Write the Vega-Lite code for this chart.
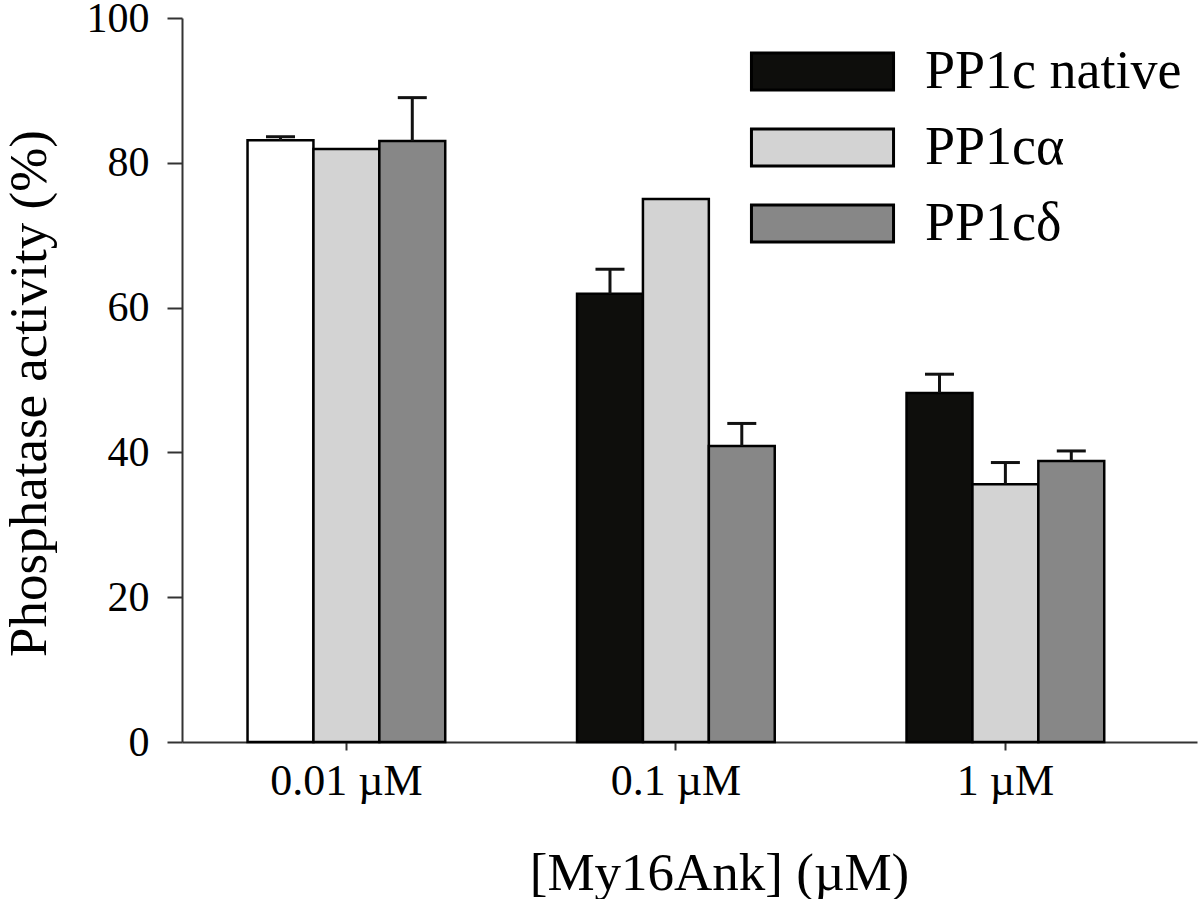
{
  "$schema": "https://vega.github.io/schema/vega-lite/v6.json",
  "width": 1015,
  "height": 724,
  "autosize": "none",
  "padding": {"left": 182, "top": 18, "right": 3, "bottom": 157},
  "background": "white",
  "config": {
    "view": {"stroke": null},
    "font": "Liberation Serif"
  },
  "data": {
    "values": [
      {"conc": "0.01 µM", "enzyme": "PP1c native", "value": 83.1, "upper": 83.6},
      {"conc": "0.01 µM", "enzyme": "PP1cα", "value": 81.9, "upper": null},
      {"conc": "0.01 µM", "enzyme": "PP1cδ", "value": 83.0, "upper": 89.0},
      {"conc": "0.1 µM", "enzyme": "PP1c native", "value": 61.9, "upper": 65.3},
      {"conc": "0.1 µM", "enzyme": "PP1cα", "value": 75.0, "upper": null},
      {"conc": "0.1 µM", "enzyme": "PP1cδ", "value": 40.9, "upper": 44.0},
      {"conc": "1 µM", "enzyme": "PP1c native", "value": 48.2, "upper": 50.8},
      {"conc": "1 µM", "enzyme": "PP1cα", "value": 35.6, "upper": 38.6},
      {"conc": "1 µM", "enzyme": "PP1cδ", "value": 38.8, "upper": 40.2}
    ]
  },
  "encoding": {
    "x": {
      "field": "conc",
      "type": "nominal",
      "sort": ["0.01 µM", "0.1 µM", "1 µM"],
      "scale": {"paddingInner": 0.4, "paddingOuter": 0.2402, "align": 0.414},
      "axis": {
        "title": "[My16Ank] (µM)",
        "titleFontSize": 53,
        "titleFontWeight": "normal",
        "titleColor": "black",
        "titlePadding": 44,
        "titleX": 537,
        "labelAngle": 0,
        "labelFontSize": 44,
        "labelColor": "black",
        "labelPadding": 9,
        "tickSize": 8,
        "tickColor": "#333",
        "tickWidth": 2,
        "domainColor": "#333",
        "domainWidth": 2
      }
    },
    "xOffset": {
      "field": "enzyme",
      "type": "nominal",
      "sort": ["PP1c native", "PP1cα", "PP1cδ"],
      "scale": {"paddingInner": 0, "paddingOuter": 0}
    }
  },
  "layer": [
    {
      "mark": {"type": "bar", "stroke": "black", "strokeWidth": 2.5},
      "encoding": {
        "y": {
          "field": "value",
          "type": "quantitative",
          "scale": {"domain": [0, 100]},
          "axis": {
            "title": "Phosphatase activity (%)",
            "titleFontSize": 53,
            "titleFontWeight": "normal",
            "titleColor": "black",
            "titlePadding": 30,
            "titleY": 375,
            "values": [0, 20, 40, 60, 80, 100],
            "grid": false,
            "labelFontSize": 42,
            "labelColor": "black",
            "labelPadding": 18,
            "tickSize": 15,
            "tickColor": "#333",
            "tickWidth": 2,
            "domainColor": "#333",
            "domainWidth": 2
          }
        },
        "fill": {
          "condition": {
            "test": "datum.conc === '0.01 µM' && datum.enzyme === 'PP1c native'",
            "value": "white"
          },
          "field": "enzyme",
          "type": "nominal",
          "scale": {
            "domain": ["PP1c native", "PP1cα", "PP1cδ"],
            "range": ["#0e0e0c", "#d3d3d3", "#878787"]
          },
          "legend": {
            "title": null,
            "orient": "none",
            "legendX": 602,
            "legendY": 15,
            "padding": 0,
            "symbolType": "M-1.92,-0.5H1.92V0.5H-1.92Z",
            "symbolSize": 5476,
            "symbolStrokeColor": "black",
            "symbolStrokeWidth": 3,
            "symbolOpacity": 1,
            "labelFontSize": 54,
            "labelColor": "black",
            "labelOffset": 64,
            "labelLimit": 0,
            "rowPadding": 10
          }
        }
      }
    },
    {
      "transform": [{"filter": "datum.upper != null"}],
      "mark": {"type": "rule", "stroke": "#111", "strokeWidth": 3},
      "encoding": {
        "y": {"field": "value", "type": "quantitative"},
        "y2": {"field": "upper"}
      }
    },
    {
      "transform": [{"filter": "datum.upper != null"}],
      "mark": {"type": "tick", "color": "#111", "size": 29, "thickness": 3, "opacity": 1},
      "encoding": {
        "y": {"field": "upper", "type": "quantitative"}
      }
    }
  ]
}
